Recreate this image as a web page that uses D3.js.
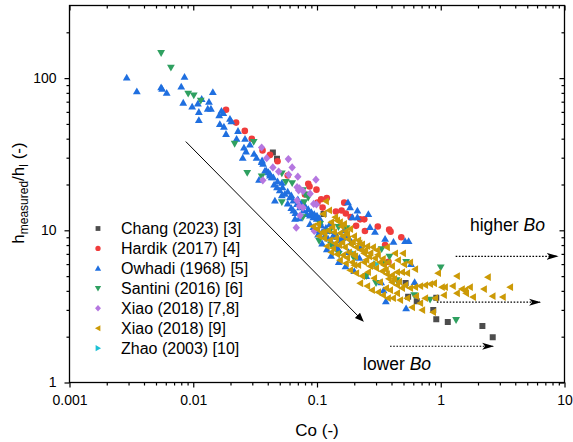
<!DOCTYPE html>
<html><head><meta charset="utf-8">
<script src="https://cdn.jsdelivr.net/npm/d3@7"></script>
<style>body{margin:0;background:#fff}svg text{font-family:"Liberation Sans",Arial,sans-serif;fill:#000}</style>
</head><body><svg id="c" width="573" height="442"></svg>
<script>
// ---------- data ----------
const xMajor=[0.001,0.01,0.1,1,10];
const xMajorLabels=["0.001","0.01","0.1","1","10"];
const yMajor=[1,10,100];
const yMajorLabels=["1","10","100"];
const seriesNames=["Chang (2023) [3]","Hardik (2017) [4]","Owhadi (1968) [5]","Santini (2016) [6]","Xiao (2018) [7,8]","Xiao (2018) [9]","Zhao (2003) [10]"];

const chang=[[0.044,32.5],[0.0475,29.5],[0.113,12.8],[0.52,4.5],[0.545,3.66],[0.64,3.42],[0.92,3.6],[0.87,3.0],[0.92,2.6],[1.14,2.5],[2.17,2.35],[2.63,1.98]];
const hardik=[[0.0184,62],[0.0222,51],[0.0261,45],[0.0297,40],[0.0363,33.5],[0.0417,31.3],[0.048,28.4],[0.058,22.9],[0.085,20.2],[0.087,19.4],[0.099,18.5],[0.08,17.2],[0.108,16],[0.12,16.3],[0.101,15.2],[0.111,14.1],[0.166,15.2],[0.142,13.3],[0.158,13.5],[0.171,12.9],[0.187,12.2],[0.223,11.8],[0.241,11.8],[0.207,10.7],[0.244,9.9],[0.31,10.6],[0.383,10.1],[0.393,9.8],[0.48,9.0],[0.355,8.0],[0.378,6.2]];
const owhadi=[[0.0029,101],[0.0035,82],[0.0055,87],[0.0056,85],[0.0061,80],[0.0085,102],[0.008,88],[0.0144,81],[0.0083,69],[0.0098,65],[0.0109,68],[0.0117,73],[0.0134,70],[0.0111,60],[0.0131,63],[0.0139,63],[0.0111,53],[0.0169,61],[0.0175,59],[0.0162,57],[0.0198,54],[0.0203,52],[0.0164,50],[0.0177,48],[0.0184,43],[0.023,45],[0.0262,40],[0.0224,40],[0.0257,35],[0.0267,33],[0.0251,30],
[0.0287,36.6],[0.031,31.8],[0.0325,30],[0.036,28.8],[0.0367,27.4],[0.034,21.5],[0.039,24.7],[0.0417,23.5],[0.0444,22.3],[0.0475,19.2],[0.05,18.3],[0.055,17.4],[0.0605,16.5],[0.0527,19.2],[0.0357,28.1],[0.038,24.7],[0.0405,24.1],[0.0417,22.9],[0.043,22.3],[0.0457,15.7],[0.0644,15.7],[0.069,14.9],[0.073,14.2],[0.0777,13.5],[0.083,12.8],[0.0878,12.5],[0.0935,12.2],[0.0995,11.9],[0.1057,11.3],[0.0644,13.5],[0.0664,11.9],[0.0878,11.0],[0.0935,10.5],[0.0995,10.0],[0.11,9.77],[0.116,9.28],[0.123,8.83],[0.131,8.4],[0.14,7.98],[0.148,7.6],[0.178,15.3],[0.185,14.2],[0.212,13.5],[0.193,12.2],[0.212,12.2],[0.26,12.8],[0.268,10.5],[0.294,9.77],[0.355,8.8],[0.415,8.4],[0.515,8.5],[0.55,8.5],[0.145,9.05],[0.153,8.6],[0.127,11.0],[0.575,6.0],[0.615,4.57],[0.525,3.07],[0.36,3.42],[0.345,4.04],[0.33,4.55],
[0.12,7.5],[0.13,6.8],[0.15,6.2],[0.17,5.8],[0.2,5.4],[0.22,6.6],[0.18,7.2],[0.25,5.0],[0.14,9.6],[0.16,8.9],[0.11,8.2],
[0.058,18.0],[0.062,17.0],[0.07,16.0],[0.075,15.0],[0.08,14.5],[0.085,13.8],[0.09,13.2],[0.095,12.8],[0.1,12.5],[0.105,12.0],[0.048,21.0],[0.052,20.5],[0.045,20.0],[0.058,15.0],[0.062,14.0],
[0.118,10.4],[0.125,9.9],[0.135,9.2],[0.108,10.8],[0.102,9.4],[0.165,10.0],[0.175,9.3],[0.19,8.4],[0.225,7.7],[0.052,17.0],[0.067,13.0],[0.072,12.0]];
const santini=[[0.0055,146],[0.0066,117],[0.0091,79],[0.0101,77],[0.0115,71],[0.0216,37],[0.0308,38],[0.0273,23.8],[0.0357,22.6],[0.052,23.6],[0.056,20.8],[0.063,20.4],[0.077,18.3],[0.08,17.2],[0.085,16.4],[0.052,15.3],[0.079,15.3],[0.077,12.2],[0.106,11],[0.127,9.9],[0.149,10.5],[0.173,10.3],[0.104,8.5],[0.333,7.5],[0.385,6.7],[0.525,6.2],[1.0,5.7],[0.44,4.7],[0.345,6.05],[0.61,3.75],[0.82,3.5],[1.33,2.57],[0.15,7.0],[0.2,6.5],[0.25,5.0],[0.13,8.0],[0.3,4.5]];
const xiao78=[[0.0357,35],[0.0392,29.8],[0.044,25.9],[0.049,24.3],[0.0587,29.4],[0.063,25.9],[0.059,23.2],[0.07,22.5],[0.0365,21.3],[0.069,19.2],[0.071,18.3],[0.098,21.5],[0.088,17.4],[0.069,15.7],[0.072,14.4],[0.077,14.1],[0.094,14.9],[0.099,14.8],[0.073,12.5],[0.068,10.4],[0.095,9.9],[0.072,18.9],[0.077,18.1]];
const xiao9=[[0.118,15.5],[0.125,13.5],[0.112,12.8],[0.14,12.2],[0.145,11.6],[0.13,11.3],[0.153,11.3],[0.165,11.0],[0.102,11.0],[0.093,10.6],[0.1,10.2],[0.11,9.7],[0.123,10.0],[0.137,9.7],[0.153,9.57],[0.171,9.86],[0.185,10.2],[0.104,9.14],[0.114,8.86],[0.127,8.6],[0.1425,8.86],[0.162,9.14],[0.178,8.73],[0.199,9.14],[0.215,8.6],[0.12,7.86],[0.135,7.63],[0.151,7.98],[0.168,7.74],[0.188,8.09],[0.207,7.74],[0.231,8.09],[0.254,7.86],[0.283,7.74],[0.305,7.4],[0.13,7.17],[0.145,6.96],[0.162,6.86],[0.181,7.17],[0.203,6.75],[0.227,7.4],[0.24,7.06],[0.263,6.75],[0.294,6.55],[0.323,6.16],[0.348,5.9],[0.153,6.36],[0.171,6.07],[0.192,6.16],[0.215,5.9],[0.24,6.16],[0.268,5.81],[0.3,5.64],[0.335,5.39],[0.185,5.47],[0.207,5.23],[0.231,5.0],[0.258,5.31],[0.289,4.85],[0.323,4.56],[0.223,4.49],[0.254,4.3],[0.278,4.04],[0.311,3.92],[0.361,4.17],[0.367,7.74],[0.427,7.06],[0.495,7.06],[0.374,6.16],[0.403,5.81],[0.451,6.36],[0.505,5.98],[0.565,6.16],[0.367,5.15],[0.403,5.07],[0.443,5.31],[0.486,5.31],[0.534,5.23],[0.62,5.55],[0.403,4.56],[0.443,4.36],[0.486,4.17],[0.515,4.36],[0.565,4.17],[0.62,4.23],[0.681,4.3],[0.747,4.36],[0.82,4.43],[0.882,4.49],[0.95,5.23],[1.02,4.23],[1.08,4.23],[1.25,4.3],[1.35,5.0],[1.48,4.11],[1.57,4.04],[1.72,4.23],[2.23,4.11],[2.4,4.92],[3.63,4.23],[1.06,3.75],[1.35,3.86],[1.6,3.86],[1.82,3.64],[2.62,3.69],[3.17,3.64],[0.9,3.58],[0.681,3.32],[0.707,2.99],[0.866,2.9],[0.586,3.12],[0.534,3.58],[0.469,3.48],[0.411,3.58],[0.374,3.58],[0.341,3.75],[0.443,3.86],[0.389,4.04],[0.632,3.69],[0.747,3.58],
[0.133,10.5],[0.158,10.6],[0.175,9.4],[0.195,8.4],[0.22,8.2],[0.245,7.4],[0.27,7.1],[0.31,6.9],[0.34,6.5],[0.16,8.3],[0.14,8.2],[0.115,9.6],[0.196,7.0],[0.25,6.4],[0.28,6.0],[0.2,5.9],[0.175,6.6],[0.36,5.5],[0.42,4.8],[0.46,4.6],[0.38,4.8]];
const zhao=[[0.2,7.0],[0.3,6.0]];

// annotations (data units)
const mainArrow=[[0.0087,38.3],[0.236,2.53]];
const boArrows=[[[1.32,6.75],[8.8,6.75]],[[0.93,3.37],[6.35,3.37]],[[0.389,1.73],[2.65,1.73]]];

// ---------- chart ----------
const svg=d3.select("#c");
const L=69.5,R=564.5,T=5.5,B=382.5;
const x=d3.scaleLog().domain([0.001,10]).range([L,R]);
const y=d3.scaleLog().domain([1,300]).range([B,T]);

const colors=["#4d4d4d","#f03c3c","#1f6fe0","#2fa060","#b577e0","#cc9a06","#1cc0d4"];
const shapes=[
 "M-3,-3H3V3H-3Z",
 "M3.3,0A3.3,3.3 0 1,1 -3.3,0A3.3,3.3 0 1,1 3.3,0Z",
 "M0,-3.8L3.9,3L-3.9,3Z",
 "M0,3.8L3.9,-3L-3.9,-3Z",
 "M0,-4.1L3.7,0L0,4.1L-3.7,0Z",
 "M-3.8,0L3,-3.9L3,3.9Z",
 "M3.8,0L-3,-3.9L-3,3.9Z"
];
const seriesData=[chang,hardik,owhadi,santini,xiao78,xiao9,zhao];
const drawOrder=[6,0,1,2,3,4,5];

svg.append("defs").html(
 '<marker id="ah" viewBox="0 0 10 10" refX="9" refY="5" markerWidth="9" markerHeight="9" markerUnits="userSpaceOnUse" orient="auto"><path d="M0,1L10,5L0,9Z" fill="#000"/></marker>'+
 '<marker id="ah2" viewBox="0 0 12 8" refX="11" refY="4" markerWidth="12" markerHeight="8" markerUnits="userSpaceOnUse" orient="auto"><path d="M0,0.5L12,4L0,7.5L3,4Z" fill="#000"/></marker>');

svg.append("clipPath").attr("id","pc").append("rect").attr("x",L).attr("y",T).attr("width",R-L).attr("height",B-T);
const plot=svg.append("g").attr("clip-path","url(#pc)");

drawOrder.forEach(si=>{
  plot.append("g").selectAll("path").data(seriesData[si]).join("path")
   .attr("d",shapes[si]).attr("fill",colors[si])
   .attr("transform",d=>`translate(${x(d[0])},${y(d[1])})`);
});

// annotation arrows
svg.append("line").attr("x1",x(mainArrow[0][0])).attr("y1",y(mainArrow[0][1]))
 .attr("x2",x(mainArrow[1][0])).attr("y2",y(mainArrow[1][1]))
 .attr("stroke","#000").attr("stroke-width",1).attr("marker-end","url(#ah)");
boArrows.forEach(a=>{
  svg.append("line").attr("x1",x(a[0][0])).attr("y1",y(a[0][1])).attr("x2",x(a[1][0])).attr("y2",y(a[1][1]))
   .attr("stroke","#000").attr("stroke-width",1.2).attr("stroke-dasharray","1.6,1.6").attr("marker-end","url(#ah2)");
});
const hb=svg.append("text").attr("x",470).attr("y",231).attr("font-size",17.5);
hb.append("tspan").text("higher ");hb.append("tspan").attr("font-style","italic").text("Bo");
const lb=svg.append("text").attr("x",363).attr("y",370).attr("font-size",17.5);
lb.append("tspan").text("lower ");lb.append("tspan").attr("font-style","italic").text("Bo");

// axes
function minorTicks(lo,hi){const r=[];for(let d=lo;d<hi;d*=10){for(let m=2;m<=9;m++){const v=d*m; if(v<hi*0.999) r.push(v);}}return r;}
const xMinor=minorTicks(0.001,10), yMinor=minorTicks(1,300);
const fs=14;
function style(g){g.select(".domain").remove();g.selectAll("line").attr("stroke","#000").attr("stroke-width",1.2);g.selectAll("text").attr("font-size",fs).attr("font-family",null);}
svg.append("g").attr("transform",`translate(0,${B})`).call(d3.axisBottom(x).tickValues(xMajor).tickSize(5).tickPadding(8).tickFormat((d,i)=>xMajorLabels[i])).call(style);
svg.append("g").attr("transform",`translate(0,${B})`).call(d3.axisBottom(x).tickValues(xMinor).tickSize(3).tickFormat("")).call(style);
svg.append("g").attr("transform",`translate(0,${T})`).call(d3.axisTop(x).tickValues(xMajor).tickSize(-5).tickFormat("")).call(style);
svg.append("g").attr("transform",`translate(0,${T})`).call(d3.axisTop(x).tickValues(xMinor).tickSize(-3).tickFormat("")).call(style);
svg.append("g").attr("transform",`translate(${L},0)`).call(d3.axisLeft(y).tickValues(yMajor).tickSize(5).tickPadding(8).tickFormat((d,i)=>yMajorLabels[i])).call(style);
svg.append("g").attr("transform",`translate(${L},0)`).call(d3.axisLeft(y).tickValues(yMinor).tickSize(3).tickFormat("")).call(style);
svg.append("g").attr("transform",`translate(${R},0)`).call(d3.axisRight(y).tickValues(yMajor).tickSize(-5).tickFormat("")).call(style);
svg.append("g").attr("transform",`translate(${R},0)`).call(d3.axisRight(y).tickValues(yMinor).tickSize(-3).tickFormat("")).call(style);
svg.append("rect").attr("x",L).attr("y",T).attr("width",R-L).attr("height",B-T).attr("fill","none").attr("stroke","#000").attr("stroke-width",1.3);

// titles
svg.append("text").attr("x",(L+R)/2).attr("y",436).attr("text-anchor","middle").attr("font-size",17).text("Co (-)");
const yt=svg.append("text").attr("transform","translate(24,193) rotate(-90)").attr("text-anchor","middle").attr("font-size",17);
yt.append("tspan").text("h");
yt.append("tspan").attr("font-size",12).attr("dy",4).text("measured");
yt.append("tspan").attr("dy",-4).text("/h");
yt.append("tspan").attr("font-size",12).attr("dy",4).text("l");
yt.append("tspan").attr("dy",-4).text(" (-)");

// legend
const lg=svg.append("g");
seriesNames.forEach((n,i)=>{
  const cy=228.5+i*19.95;
  lg.append("path").attr("d",shapes[i]).attr("fill",colors[i]).attr("transform",`translate(98,${cy}) scale(0.8)`);
  lg.append("text").attr("x",121).attr("y",cy+5.8).attr("font-size",16).text(n);
});
</script></body></html>
